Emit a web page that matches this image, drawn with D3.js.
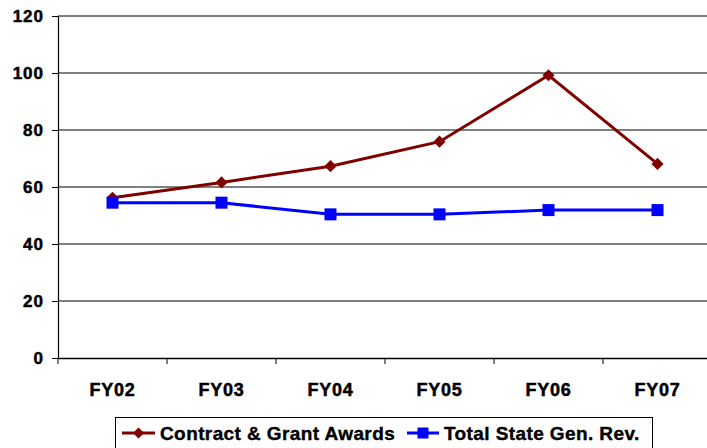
<!DOCTYPE html>
<html><head><meta charset="utf-8">
<script src="https://cdn.jsdelivr.net/npm/d3@7"></script>
<style>body{margin:0;background:#fff;}svg{display:block;font-family:Arial,"Liberation Sans",sans-serif;}</style>
</head><body>
<svg id="c" width="707" height="448"></svg>
<script>
const categories = ["FY02","FY03","FY04","FY05","FY06","FY07"];
const contractGrant = [56.2, 61.6, 67.3, 75.9, 99.2, 68.1];
const stateGenRev = [54.5, 54.5, 50.4, 50.4, 51.9, 51.9];
const yTicks = [0,20,40,60,80,100,120];
const seriesNames = ["Contract & Grant Awards","Total State Gen. Rev."];

const FONT = "Arial, 'Liberation Sans', sans-serif";
const svg = d3.select("#c");
const x = d3.scaleBand().domain(categories).range([58, 712]);
const y = d3.scaleLinear().domain([0,120]).range([358, 16]);

// gridlines
svg.append("g").selectAll("line").data(yTicks.filter(d=>d>0)).join("line")
  .attr("x1",58).attr("x2",707).attr("y1",d=>y(d)).attr("y2",d=>y(d))
  .attr("stroke","#808080").attr("stroke-width",2);

// y axis
const ya = svg.append("g").attr("transform","translate(58,0)")
  .call(d3.axisLeft(y).tickValues(yTicks).tickSize(6).tickPadding(9));
ya.select(".domain").attr("stroke","#000").attr("stroke-width",1.2);
ya.selectAll(".tick line").attr("stroke","#000");
ya.selectAll("text").attr("font-size",17).attr("font-weight","bold").attr("fill","#000")
  .attr("stroke","#000").attr("stroke-width",0.5)
  .attr("font-family",FONT).attr("letter-spacing","1px").attr("dx","1px");

// x axis
const xa = svg.append("g").attr("transform","translate(0,358)")
  .call(d3.axisBottom(x).tickSize(0).tickPadding(25));
xa.select(".domain").attr("stroke","#000").attr("stroke-width",1.5);
xa.selectAll("text").attr("font-size",18).attr("font-weight","bold").attr("fill","#000")
  .attr("stroke","#000").attr("stroke-width",0.5)
  .attr("font-family",FONT).attr("letter-spacing","0.7px");
// category boundary ticks
const bounds = categories.map((c,i)=>x(c));
svg.append("g").selectAll("line").data(bounds).join("line")
  .attr("x1",d=>d).attr("x2",d=>d).attr("y1",358).attr("y2",364)
  .attr("stroke","#000").attr("stroke-width",1);

const cx = c => x(c) + x.bandwidth()/2;
const line = d3.line().x((d,i)=>cx(categories[i])).y(d=>y(d));

svg.append("path").datum(contractGrant).attr("d",line)
  .attr("fill","none").attr("stroke","#800000").attr("stroke-width",3);
svg.append("path").datum(stateGenRev).attr("d",line)
  .attr("fill","none").attr("stroke","#0000FF").attr("stroke-width",3);

svg.append("g").selectAll("path").data(contractGrant).join("path")
  .attr("d", d3.symbol().type(d3.symbolSquare).size(74))
  .attr("transform",(d,i)=>`translate(${cx(categories[i])},${y(d)}) rotate(45)`)
  .attr("fill","#800000");
svg.append("g").selectAll("rect").data(stateGenRev).join("rect")
  .attr("x",(d,i)=>cx(categories[i])-6).attr("y",d=>y(d)-6)
  .attr("width",12).attr("height",12).attr("fill","#0000FF");

// legend
const lg = svg.append("g");
lg.append("rect").attr("x",115.5).attr("y",417.5).attr("width",537).attr("height",40)
  .attr("fill","#fff").attr("stroke","#000").attr("stroke-width",1);
lg.append("line").attr("x1",122).attr("x2",155).attr("y1",433).attr("y2",433).attr("stroke","#800000").attr("stroke-width",3);
lg.append("path").attr("d", d3.symbol().type(d3.symbolSquare).size(60)())
  .attr("transform","translate(138.5,433) rotate(45)").attr("fill","#800000");
lg.append("text").attr("x",160).attr("y",440).text(seriesNames[0])
  .attr("font-size",19).attr("font-weight","bold").attr("fill","#000").attr("letter-spacing","0.4px")
  .attr("stroke","#000").attr("stroke-width",0.4);
lg.append("line").attr("x1",407).attr("x2",439).attr("y1",433).attr("y2",433).attr("stroke","#0000FF").attr("stroke-width",3);
lg.append("rect").attr("x",417.5).attr("y",427.5).attr("width",11).attr("height",11).attr("fill","#0000FF");
lg.append("text").attr("x",444).attr("y",440).text(seriesNames[1])
  .attr("font-size",19).attr("font-weight","bold").attr("fill","#000").attr("letter-spacing","0.4px")
  .attr("stroke","#000").attr("stroke-width",0.4);
</script>
</body></html>
